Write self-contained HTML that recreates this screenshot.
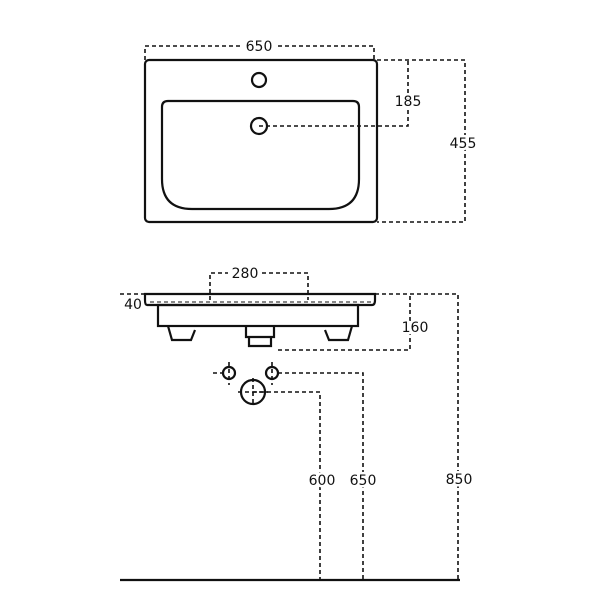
<!DOCTYPE html>
<html><head><style>
body{margin:0;background:#fff}
text{font-family:"DejaVu Sans","Liberation Sans",sans-serif;font-size:14px;fill:#111;stroke:#fff;stroke-width:5px;paint-order:stroke;stroke-linejoin:round}
</style></head><body>
<svg width="600" height="600" viewBox="0 0 600 600" xmlns="http://www.w3.org/2000/svg">
<rect width="600" height="600" fill="#fff"/>
<g fill="none" stroke="#111" stroke-width="1.6" stroke-dasharray="4,3">
<path d="M145,60 V46 H240 M278,46 H374 V60"/>
<path d="M259,126 H408 V60"/>
<path d="M377,60 H465 V222 H377"/>
<path d="M210,300 V273 H228 M262,273 H308 V300"/>
<path d="M120,294 H145 M375,294 H458 V580"/>
<path d="M278,350 H410 V294"/>
<path d="M213,373 H223 M278,373 H363 V580"/>
<path d="M253,392 H320 V580"/>
<path d="M229,362 V385 M272,362 V385 M253,378 V405 M238,392 H268"/>
<path d="M150,302 H373" stroke-width="1"/>
</g>
<g fill="none" stroke="#111" stroke-width="2.2">
<rect x="145" y="60" width="232" height="162" rx="4"/>
<circle cx="259" cy="80" r="7"/>
<path d="M168,101 H353 Q359,101 359,107 V179 Q359,209 329,209 H192 Q162,209 162,179 V107 Q162,101 168,101 Z"/>
<circle cx="259" cy="126" r="8"/>
<path d="M147,305 Q145,305 145,300 V294 H375 V300 Q375,305 372,305 Z"/>
<rect x="158" y="305" width="200" height="21"/>
<path d="M168,326 L172,340 H191 L195,330 M352,326 L348,340 H329 L325,330"/>
<path d="M246,326 V337 H274 V326 M249,337 V346 H271 V337"/>
<circle cx="229" cy="373" r="6"/>
<circle cx="272" cy="373" r="6"/>
<circle cx="253" cy="392" r="12"/>
<path d="M120,580 H460"/>
</g>
<text x="259" y="51" text-anchor="middle">650</text>
<text x="408" y="106" text-anchor="middle">185</text>
<text x="463" y="148" text-anchor="middle">455</text>
<text x="245" y="278" text-anchor="middle">280</text>
<text x="133" y="309" text-anchor="middle">40</text>
<text x="415" y="332" text-anchor="middle">160</text>
<text x="322" y="485" text-anchor="middle">600</text>
<text x="363" y="485" text-anchor="middle">650</text>
<text x="459" y="484" text-anchor="middle">850</text>
</svg>
</body></html>
